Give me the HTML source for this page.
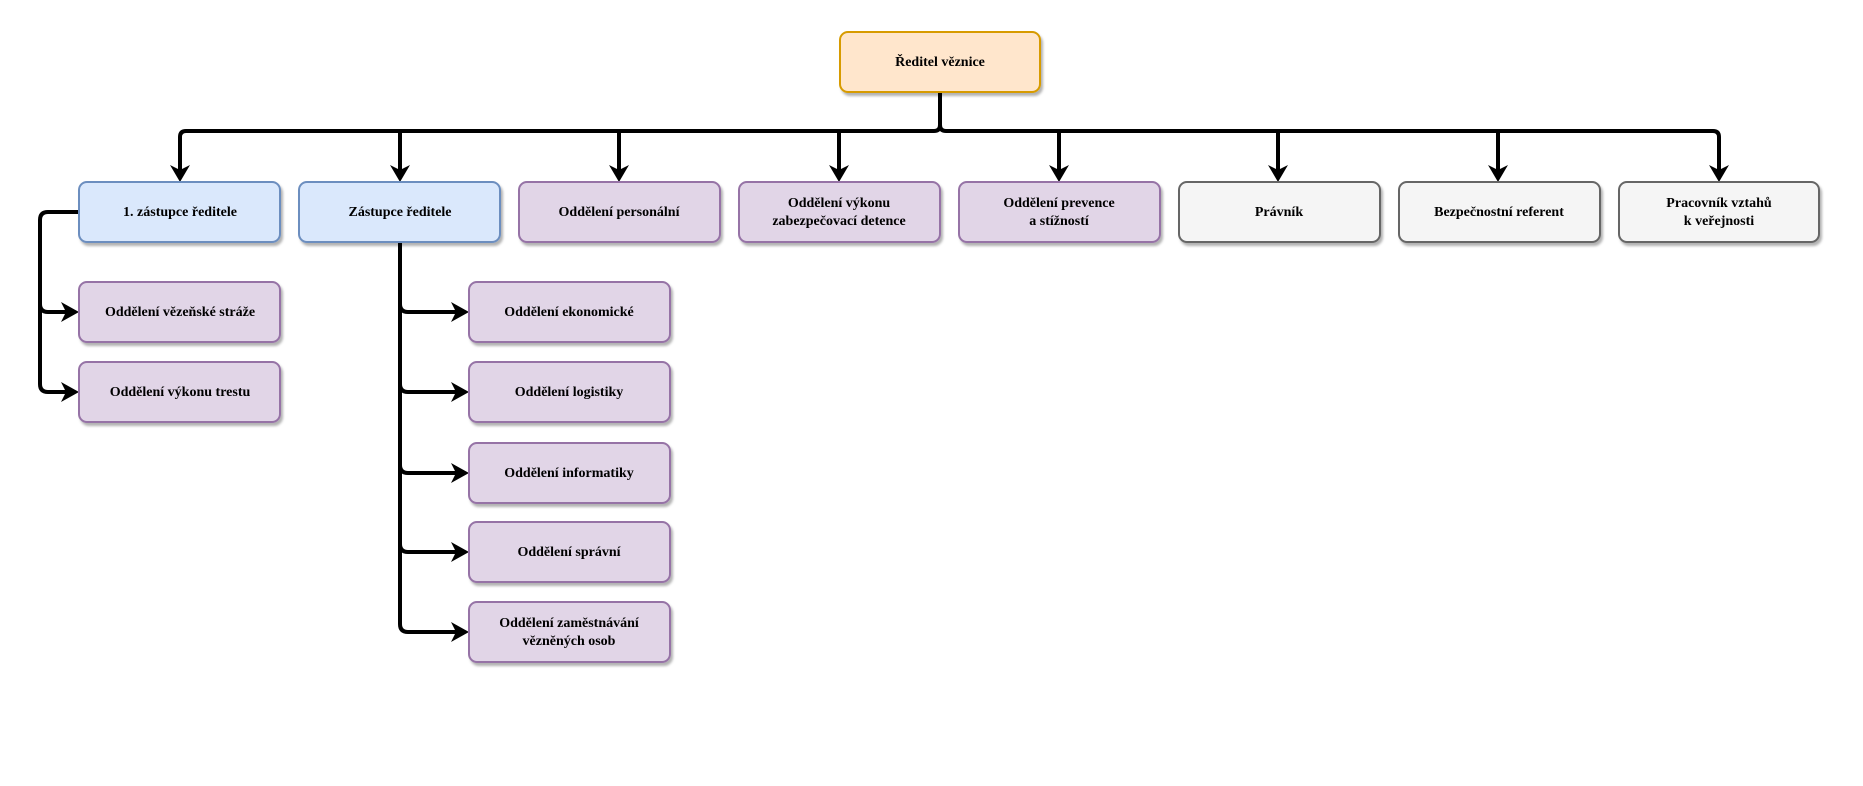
<!DOCTYPE html>
<html><head><meta charset="utf-8"><style>
html,body{margin:0;padding:0;background:#fff;}
svg{display:block}
text{font-family:"Liberation Serif",serif;font-weight:bold;font-size:14px;fill:#000;text-anchor:middle;dominant-baseline:middle}
</style></head><body>
<svg width="1863" height="786" viewBox="0 0 1863 786" xmlns="http://www.w3.org/2000/svg">
<defs>
<filter id="sh" x="-10%" y="-10%" width="130%" height="140%"><feDropShadow dx="2" dy="3" stdDeviation="1.2" flood-color="#000" flood-opacity="0.3"/></filter>
<marker id="ar" markerWidth="8" markerHeight="8" refX="7" refY="4" orient="auto" markerUnits="userSpaceOnUse" viewBox="0 0 8 8">
</marker>
</defs>
<g fill="none" stroke="#000" stroke-width="4" stroke-linejoin="round">
<!-- top bus -->
<path d="M940 92 V125 Q940 131 934 131 H186 Q180 131 180 137 V170"/>
<path d="M940 125 Q940 131 946 131 H1713 Q1719 131 1719 137 V170"/>
<path d="M400 131 Q400 131 400 137 V170"/>
<path d="M619 131 V170"/><path d="M839 131 V170"/><path d="M1059 131 V170"/>
<path d="M1278 131 V170"/><path d="M1498 131 V170"/>
<!-- left branch -->
<path d="M79 212 H48 Q40 212 40 220 V384 Q40 392 48 392 H66"/>
<path d="M40 304 Q40 312 48 312 H66"/>
<!-- zastupce branch -->
<path d="M400 242 V624 Q400 632 408 632 H456"/>
<path d="M400 304 Q400 312 408 312 H456"/>
<path d="M400 384 Q400 392 408 392 H456"/>
<path d="M400 465 Q400 473 408 473 H456"/>
<path d="M400 544 Q400 552 408 552 H456"/>
</g>
<g fill="#000">
<!-- down arrows -->
<path d="M170 165 L180 170 L190 165 L180 182 Z"/>
<path d="M390 165 L400 170 L410 165 L400 182 Z"/>
<path d="M609 165 L619 170 L629 165 L619 182 Z"/>
<path d="M829 165 L839 170 L849 165 L839 182 Z"/>
<path d="M1049 165 L1059 170 L1069 165 L1059 182 Z"/>
<path d="M1268 165 L1278 170 L1288 165 L1278 182 Z"/>
<path d="M1488 165 L1498 170 L1508 165 L1498 182 Z"/>
<path d="M1709 165 L1719 170 L1729 165 L1719 182 Z"/>
<!-- right arrows -->
<path d="M61 302 L66 312 L61 322 L79 312 Z"/>
<path d="M61 382 L66 392 L61 402 L79 392 Z"/>
<path d="M451 302 L456 312 L451 322 L469 312 Z"/>
<path d="M451 382 L456 392 L451 402 L469 392 Z"/>
<path d="M451 463 L456 473 L451 483 L469 473 Z"/>
<path d="M451 542 L456 552 L451 562 L469 552 Z"/>
<path d="M451 622 L456 632 L451 642 L469 632 Z"/>
</g>
<g stroke-width="2" filter="url(#sh)">
<rect x="840" y="32" width="200" height="60" rx="8" fill="#ffe6cc" stroke="#d79b00"/>
<rect x="79" y="182" width="201" height="60" rx="8" fill="#dae8fc" stroke="#6c8ebf"/>
<rect x="299" y="182" width="201" height="60" rx="8" fill="#dae8fc" stroke="#6c8ebf"/>
<rect x="519" y="182" width="201" height="60" rx="8" fill="#e1d5e7" stroke="#9673a6"/>
<rect x="739" y="182" width="201" height="60" rx="8" fill="#e1d5e7" stroke="#9673a6"/>
<rect x="959" y="182" width="201" height="60" rx="8" fill="#e1d5e7" stroke="#9673a6"/>
<rect x="1179" y="182" width="201" height="60" rx="8" fill="#f5f5f5" stroke="#666666"/>
<rect x="1399" y="182" width="201" height="60" rx="8" fill="#f5f5f5" stroke="#666666"/>
<rect x="1619" y="182" width="200" height="60" rx="8" fill="#f5f5f5" stroke="#666666"/>
<rect x="79" y="282" width="201" height="60" rx="8" fill="#e1d5e7" stroke="#9673a6"/>
<rect x="79" y="362" width="201" height="60" rx="8" fill="#e1d5e7" stroke="#9673a6"/>
<rect x="469" y="282" width="201" height="60" rx="8" fill="#e1d5e7" stroke="#9673a6"/>
<rect x="469" y="362" width="201" height="60" rx="8" fill="#e1d5e7" stroke="#9673a6"/>
<rect x="469" y="443" width="201" height="60" rx="8" fill="#e1d5e7" stroke="#9673a6"/>
<rect x="469" y="522" width="201" height="60" rx="8" fill="#e1d5e7" stroke="#9673a6"/>
<rect x="469" y="602" width="201" height="60" rx="8" fill="#e1d5e7" stroke="#9673a6"/>
</g>
<text x="940" y="63">Ředitel věznice</text>
<text x="180" y="213">1. zástupce ředitele</text>
<text x="400" y="213">Zástupce ředitele</text>
<text x="619" y="213">Oddělení personální</text>
<text x="839" y="204">Oddělení výkonu</text>
<text x="839" y="222">zabezpečovací detence</text>
<text x="1059" y="204">Oddělení prevence</text>
<text x="1059" y="222">a stížností</text>
<text x="1279" y="213">Právník</text>
<text x="1499" y="213">Bezpečnostní referent</text>
<text x="1719" y="204">Pracovník vztahů</text>
<text x="1719" y="222">k veřejnosti</text>
<text x="180" y="313">Oddělení vězeňské stráže</text>
<text x="180" y="393">Oddělení výkonu trestu</text>
<text x="569" y="313">Oddělení ekonomické</text>
<text x="569" y="393">Oddělení logistiky</text>
<text x="569" y="474">Oddělení informatiky</text>
<text x="569" y="553">Oddělení správní</text>
<text x="569" y="624">Oddělení zaměstnávání</text>
<text x="569" y="642">vězněných osob</text>
</svg>
</body></html>
